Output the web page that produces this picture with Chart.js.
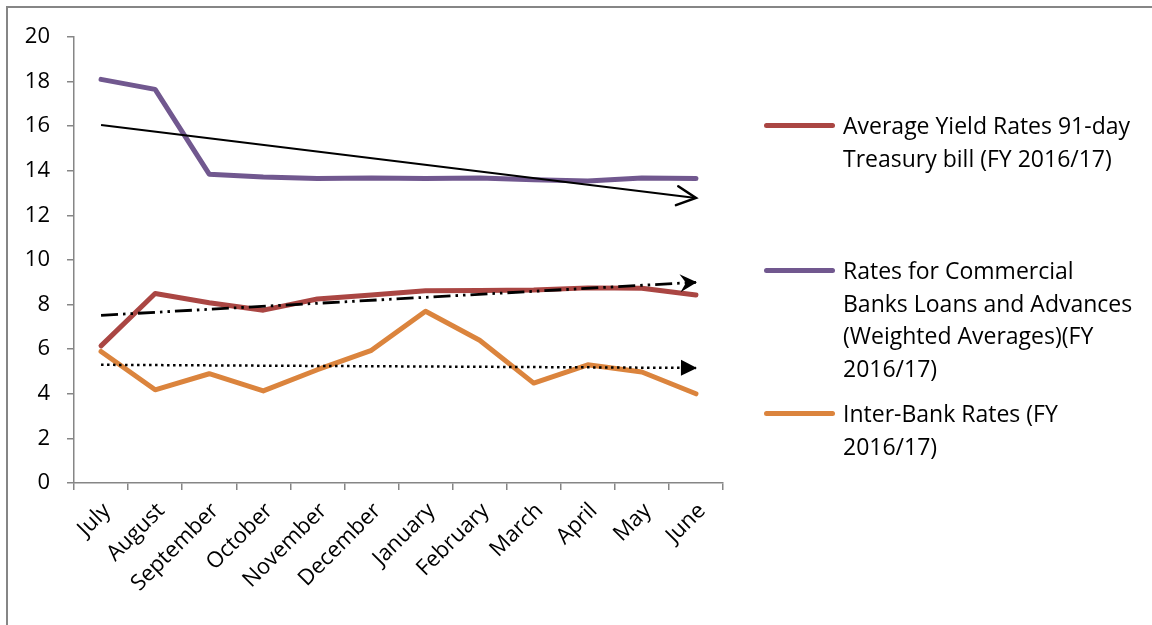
<!DOCTYPE html>
<html>
<head>
<meta charset="utf-8">
<script src="https://cdn.jsdelivr.net/npm/chart.js@4.4.1/dist/chart.umd.min.js"></script>
<style>
  html, body { margin: 0; padding: 0; background: #fff; }
  body { width: 1152px; height: 625px; position: relative; overflow: hidden; font-family: "Open Sans", sans-serif; }
  #frame { position: absolute; left: 6px; top: 6px; width: 1160px; height: 640px; border: 2px solid #868686; box-sizing: border-box; }
  #wrap { position: absolute; left: 0; top: 0; width: 1152px; height: 625px; }
  .item { position: absolute; left: 764px; }
  .swatch { position: absolute; left: 0; width: 71px; height: 5px; border-radius: 3px; }
  .label { position: absolute; left: 79px; width: 340px; font-size: 23px; line-height: 32.5px; color: #000; white-space: pre; }
</style>
</head>
<body>
<div id="frame"></div>
<div id="wrap"><canvas id="rateChart" width="1152" height="625"></canvas></div>
<div id="legend"></div>
<script>
const months = ['July', 'August', 'September', 'October', 'November', 'December',
                'January', 'February', 'March', 'April', 'May', 'June'];

const treasuryBill = [6.15, 8.5, 8.08, 7.75, 8.25, 8.43, 8.62, 8.63, 8.66, 8.75, 8.73, 8.43];
const commercialLoans = [18.1, 17.65, 13.85, 13.72, 13.65, 13.68, 13.65, 13.68, 13.6, 13.54, 13.68, 13.65];
const interBank = [5.9, 4.18, 4.9, 4.13, 5.08, 5.95, 7.7, 6.4, 4.48, 5.3, 4.98, 4.0];

// trendline end values (July, June)
const trendTreasury = [7.52, 9.0];
const trendLoans = [16.05, 12.78];
const trendInter = [5.3, 5.16];

const yTickMax = 20;
const yTickStep = 2;

const seriesLabels = [
    'Average Yield Rates 91-day\nTreasury bill (FY 2016/17)',
    'Rates for Commercial\nBanks Loans and Advances\n(Weighted Averages)(FY\n2016/17)',
    'Inter-Bank Rates (FY\n2016/17)'
];
const seriesColors = ['#AA4643', '#71588F', '#DB843D'];

function trendPoints(vals) {
    return [{ x: months[0], y: vals[0] }, { x: months[months.length - 1], y: vals[1] }];
}

// arrow heads at the end of the trendlines
const arrowPlugin = {
    id: 'arrows',
    afterDatasetsDraw(chart) {
        const ctx = chart.ctx;
        chart.data.datasets.forEach((ds, i) => {
            if (!ds.arrow) return;
            const pts = chart.getDatasetMeta(i).data;
            const a = pts[pts.length - 2], b = pts[pts.length - 1];
            const ang = Math.atan2(b.y - a.y, b.x - a.x);
            ctx.save();
            ctx.translate(b.x, b.y);
            ctx.rotate(ang);
            ctx.strokeStyle = '#000';
            ctx.fillStyle = '#000';
            ctx.setLineDash([]);
            if (ds.arrow === 'open') {
                ctx.lineWidth = 2.5;
                ctx.lineCap = 'round';
                ctx.beginPath();
                ctx.moveTo(-19, -9.5);
                ctx.lineTo(0, 0);
                ctx.lineTo(-19, 9.5);
                ctx.stroke();
            } else if (ds.arrow === 'stealth') {
                ctx.beginPath();
                ctx.moveTo(1, 0);
                ctx.lineTo(-16, -9);
                ctx.lineTo(-10, 0);
                ctx.lineTo(-16, 9);
                ctx.closePath();
                ctx.fill();
            } else {
                ctx.beginPath();
                ctx.moveTo(1, 0);
                ctx.lineTo(-15, -8);
                ctx.lineTo(-15, 8);
                ctx.closePath();
                ctx.fill();
            }
            ctx.restore();
        });
    }
};

const seriesLine = (label, data, color) => ({
    label: label.replace(/\n/g, ' '),
    data: data,
    borderColor: color,
    backgroundColor: color,
    borderWidth: 5,
    borderCapStyle: 'round',
    borderJoinStyle: 'round',
    pointRadius: 0,
    tension: 0
});

const trendLine = (data, dash, width, arrow) => ({
    label: 'trend',
    data: trendPoints(data),
    borderColor: '#000',
    borderWidth: width,
    borderDash: dash,
    pointRadius: 0,
    arrow: arrow
});

Chart.defaults.font.family = '"Open Sans", sans-serif';
Chart.defaults.font.size = 22;
Chart.defaults.color = '#000';

const ctx = document.getElementById('rateChart').getContext('2d');

const rateChart = new Chart(ctx, {
    type: 'line',
    data: {
        labels: months,
        datasets: [
            trendLine(trendLoans, [], 2, 'open'),
            trendLine(trendTreasury, [17, 5, 2.5, 5, 2.5, 5], 2.8, 'stealth'),
            trendLine(trendInter, [2.5, 3.5], 2.5, 'triangle'),
            seriesLine(seriesLabels[0], treasuryBill, seriesColors[0]),
            seriesLine(seriesLabels[1], commercialLoans, seriesColors[1]),
            seriesLine(seriesLabels[2], interBank, seriesColors[2])
        ]
    },
    options: {
        responsive: false,
        animation: false,
        events: [],
        layout: { padding: { left: 3, top: 37, right: 429, bottom: 0 } },
        plugins: { legend: { display: false }, tooltip: { enabled: false } },
        scales: {
            x: {
                offset: true,
                grid: { offset: true, drawOnChartArea: false, drawTicks: true, tickLength: 7, color: '#868686', lineWidth: 1.5 },
                border: { color: '#868686', width: 1.5 },
                ticks: { minRotation: 45, maxRotation: 45, autoSkip: false, padding: 8, labelOffset: 6 },
                afterFit(scale) { scale.height = 142; }
            },
            y: {
                min: 0,
                max: yTickMax,
                grid: { drawOnChartArea: false, drawTicks: true, tickLength: 7, color: '#868686', lineWidth: 1.5 },
                border: { color: '#868686', width: 1.5 },
                ticks: { stepSize: yTickStep, padding: 17 },
                afterFit(scale) { scale.width = 71; }
            }
        }
    },
    plugins: [arrowPlugin]
});

// legend to the right, one block per series
const legendTops = [109, 254, 397];
const legend = document.getElementById('legend');
seriesLabels.forEach((text, i) => {
    const item = document.createElement('div');
    item.className = 'item';
    item.style.top = legendTops[i] + 'px';
    const sw = document.createElement('div');
    sw.className = 'swatch';
    sw.style.top = '13.5px';
    sw.style.background = seriesColors[i];
    const lb = document.createElement('div');
    lb.className = 'label';
    lb.innerText = text;
    item.appendChild(sw);
    item.appendChild(lb);
    legend.appendChild(item);
});
</script>
</body>
</html>
